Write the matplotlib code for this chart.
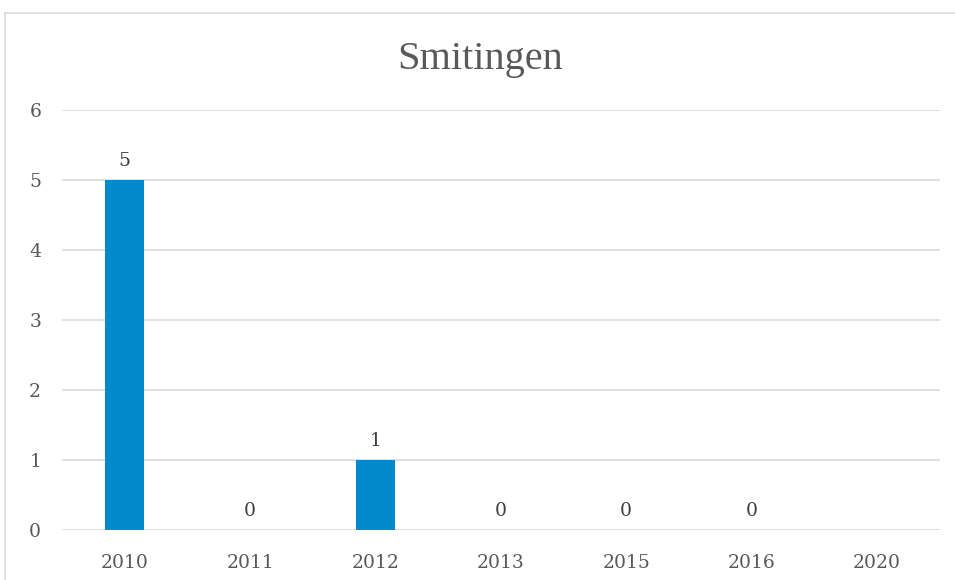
import numpy as np
import matplotlib.pyplot as plt
from matplotlib.patches import Rectangle

# Data
years = ["2010", "2011", "2012", "2013", "2015", "2016", "2020"]
counts = [5, 0, 1, 0, 0, 0, np.nan]
title = "Smitingen"

grey = "#595959"
plt.rcParams['font.family'] = ['DejaVu Serif']

fig = plt.figure(figsize=(9.55, 5.8), dpi=100)
ax = fig.add_axes([0.0649, 0.0862, 0.9191, 0.7241])

# chart frame
fig.patches.append(Rectangle((5 / 955, -0.05), 1.0, 1 - 13 / 580 + 0.05,
                             transform=fig.transFigure, fill=False,
                             edgecolor="#d9d9d9", linewidth=1.2))

x = np.arange(len(years))
vals = np.nan_to_num(counts)
ax.bar(x, vals, width=0.31, color="#0089CB", zorder=3)

for xi, v in zip(x, counts):
    if not np.isnan(v):
        ax.text(xi, v + 0.15, f"{int(v)}", ha="center", va="bottom",
                fontsize=13.5, color="#404040")

ax.set_xlim(-0.5, len(years) - 0.5)
ax.set_ylim(0, 6)
ax.set_yticks(range(7))
ax.set_xticks(x)
ax.set_xticklabels(years)
ax.grid(axis="y", color="#d9d9d9", linewidth=1.2, zorder=0)
for s in ax.spines.values():
    s.set_visible(False)
ax.tick_params(length=0, labelsize=13.5, colors=grey)
ax.tick_params(axis="y", pad=15)
ax.tick_params(axis="x", pad=17)

fig.text(0.5 + 5 / 955 / 2, 1 - 59 / 580, title, ha="center", va="center",
         fontsize=29, color=grey, family="Liberation Serif")

plt.savefig("out.png", dpi=100)
